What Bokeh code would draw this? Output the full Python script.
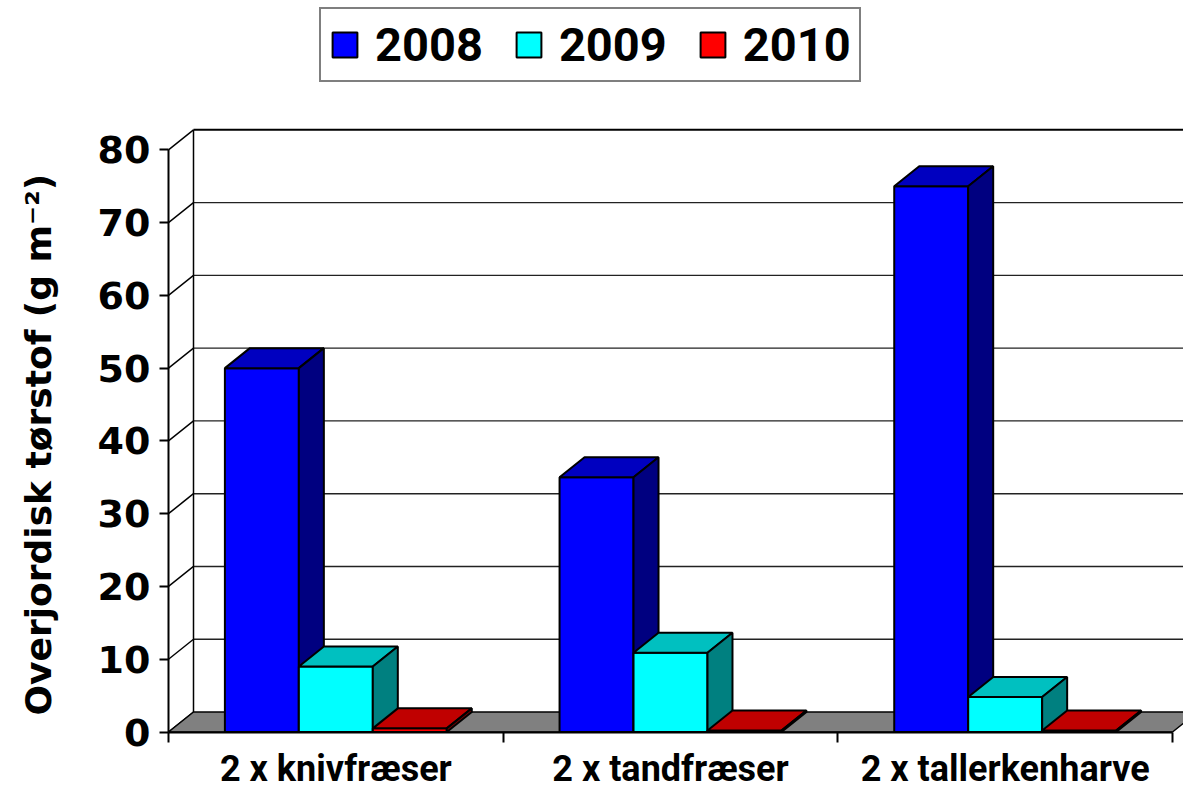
from bokeh.plotting import figure
from bokeh.models import Range1d, FixedTicker, Legend, LegendItem, Title
from bokeh.embed import file_html
from bokeh.resources import INLINE

# ---------------- data ----------------
categories = ["2 x knivfræser", "2 x tandfræser", "2 x tallerkenharve"]
years = ["2008", "2009", "2010"]
v2008 = [50, 35, 75]
v2009 = [9, 10.9, 4.8]
v2010 = [0.5, 0.2, 0.2]
y_ticks = [0, 10, 20, 30, 40, 50, 60, 70, 80]
y_title = "Overjordisk tørstof (g m⁻²)"

series = [v2008, v2009, v2010]
front_colors = ["#0000FF", "#00FFFF", "#FF0000"]
top_colors = ["#0000C0", "#00C0C0", "#C00000"]
side_colors = ["#000080", "#008080", "#800000"]

# ---------------- layout constants (pixels) ----------------
W, H = 1183, 793
BL = 70                  # left border holding the y title
ORIGIN_X, ORIGIN_Y = 168, 731.5   # canvas position of (0, 0)
PX_X = 334.67            # pixels per category
PX_Y = 7.2775            # pixels per value unit
frame_w = W - BL
frame_h = H
x_start = -(ORIGIN_X - BL) / PX_X
x_end = x_start + frame_w / PX_X
y_start = -(H - ORIGIN_Y) / PX_Y
y_end = y_start + frame_h / PX_Y
DX = 25 / PX_X           # depth offset in data units
DY = 20 / PX_Y
BAR_W = 0.221
OFFSET = (1 - 3 * BAR_W) / 2
n_cat = len(categories)
y_max = y_ticks[-1]

p = figure(width=W, height=H, x_range=Range1d(x_start, x_end), y_range=Range1d(y_start, y_end),
           output_backend="svg", toolbar_location=None, title=None,
           min_border_left=BL, min_border_right=0, min_border_top=0, min_border_bottom=0)
p.outline_line_color = None
p.xgrid.visible = False
p.ygrid.visible = False
p.background_fill_color = "white"

# side wall diagonals
p.segment(x0=[0] * len(y_ticks), y0=y_ticks,
          x1=[DX] * len(y_ticks), y1=[t + DY for t in y_ticks],
          line_color="black", line_width=1.5)
# back wall gridlines
inner = y_ticks[1:-1]
p.segment(x0=[DX] * len(inner), y0=[t + DY for t in inner],
          x1=[x_end + 1] * len(inner), y1=[t + DY for t in inner],
          line_color="#222222", line_width=1.4)
# back wall top edge
p.segment(x0=[DX], y0=[y_max + DY], x1=[x_end + 1], y1=[y_max + DY],
          line_color="black", line_width=2)
# back wall left edge
p.segment(x0=[DX], y0=[DY], x1=[DX], y1=[y_max + DY], line_color="black", line_width=1.5)

# floor
p.patch([0, n_cat, n_cat + DX, DX], [0, 0, DY, DY], fill_color="#808080",
        line_color="black", line_width=1.5)

legend_items = []
for j, vals in enumerate(series):
    lefts = [i + OFFSET + j * BAR_W for i in range(n_cat)]
    rights = [l + BAR_W for l in lefts]
    fr = p.quad(left=lefts, right=rights, bottom=[0] * n_cat, top=vals,
                fill_color=front_colors[j], line_color="black", line_width=2)
    top_xs = [[l, r, r + DX, l + DX] for l, r in zip(lefts, rights)]
    top_ys = [[v, v, v + DY, v + DY] for v in vals]
    p.patches(top_xs, top_ys, fill_color=top_colors[j], line_color="black", line_width=2)
    side_xs = [[r, r + DX, r + DX, r] for r in rights]
    side_ys = [[0, DY, v + DY, v] for v in vals]
    p.patches(side_xs, side_ys, fill_color=side_colors[j], line_color="black", line_width=2)
    legend_items.append(LegendItem(label=years[j], renderers=[fr]))

# y axis (placed at x = 0)
ya = p.yaxis[0]
ya.fixed_location = 0
ya.ticker = FixedTicker(ticks=y_ticks)
ya.bounds = (0, y_max)
ya.axis_line_width = 2
ya.axis_line_color = "black"
ya.major_tick_out = 9
ya.major_tick_in = 0
ya.major_tick_line_width = 2
ya.minor_tick_line_color = None
ya.major_label_text_font = "DejaVu Sans"
ya.major_label_text_font_style = "bold"
ya.major_label_text_font_size = "38px"
ya.major_label_text_color = "black"
ya.major_label_standoff = 9

# x axis (placed at y = 0)
xa = p.xaxis[0]
xa.fixed_location = 0
centers = [i + 0.5 for i in range(n_cat)]
xa.ticker = FixedTicker(ticks=centers, minor_ticks=list(range(n_cat + 1)))
xa.bounds = (0, n_cat)
xa.axis_line_width = 2
xa.axis_line_color = "black"
xa.major_tick_line_color = None
xa.major_tick_out = 0
xa.major_tick_in = 0
xa.minor_tick_line_color = "black"
xa.minor_tick_line_width = 2
xa.minor_tick_out = 10
xa.minor_tick_in = 0
xa.major_label_overrides = {c: lab for c, lab in zip(centers, categories)}
xa.major_label_text_font = "Roboto"
xa.major_label_text_font_style = "bold"
xa.major_label_text_font_size = "36px"
xa.major_label_text_color = "black"
xa.major_label_standoff = 6

# y axis title
ytitle = Title(text=y_title, align="left", offset=78, vertical_align="bottom", standoff=24,
               text_font="DejaVu Sans", text_font_style="bold", text_font_size="36px",
               text_color="black")
p.add_layout(ytitle, "left")

legend = Legend(items=legend_items, orientation="horizontal", location=(319 - BL, H - 82),
                label_text_font="Roboto", label_text_font_style="bold",
                label_text_font_size="47px", label_text_color="black",
                glyph_width=31, glyph_height=31, label_standoff=15, spacing=30,
                padding=8, margin=0, border_line_color="black", border_line_width=2,
                background_fill_color="white", background_fill_alpha=1)
p.add_layout(legend)

open("out.html", "w").write(file_html(p, INLINE))
